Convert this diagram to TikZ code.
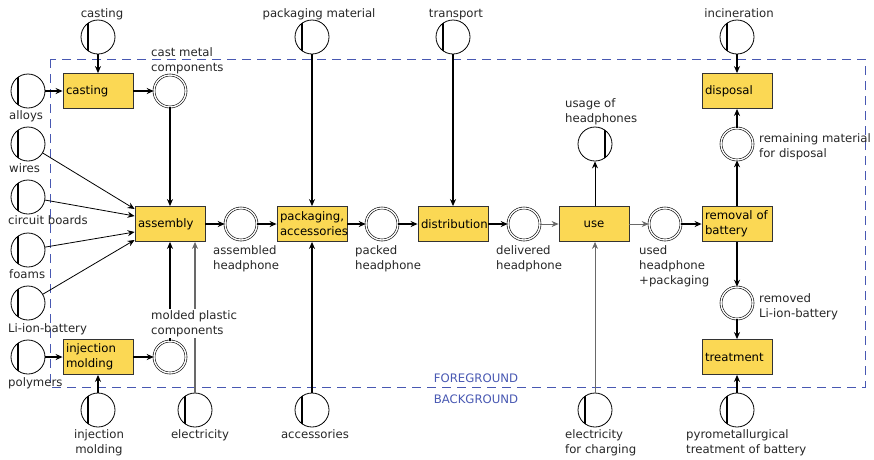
\documentclass[tikz,border=0pt]{standalone}
\usepackage{fontspec}
\setmainfont{DejaVu Sans}
\usetikzlibrary{arrows.meta}

\definecolor{procfill}{RGB}{251,216,84}
\definecolor{fgblue}{RGB}{72,88,178}
\definecolor{flowgray}{RGB}{105,105,105}

\tikzset{
  proc/.style={draw=black!80, fill=procfill, line width=0.8pt, minimum width=70pt,
               minimum height=35pt, text width=64pt, inner xsep=3pt, inner ysep=2pt, align=left},
  ext/.style={draw, circle, line width=0.8pt, minimum size=34pt, inner sep=0pt,
              path picture={\draw[line width=2.2pt] ([xshift=#1]path picture bounding box.north)
                                                 -- ([xshift=#1]path picture bounding box.south);}},
  ext/.default=-10pt,
  mid/.style={draw, circle, double, line width=0.6pt, double distance=1.4pt,
              minimum size=32pt, inner sep=0pt},
  lbl/.style={inner sep=0pt, text=black!85},
  main/.style={->, line width=1.8pt},
  side/.style={->, line width=0.8pt},
}

\begin{document}
\begin{tikzpicture}[x=1pt, y=-1pt, >={Stealth[length=7pt, width=6pt]},
                    font=\fontsize{11.7}{15}\selectfont]
\useasboundingbox (0,0) rectangle (874,459);

% 1. foreground frame
\draw[fgblue, line width=0.9pt, dash pattern=on 9pt off 6pt] (50,59) rectangle (865,387);
\node[text=fgblue] (fg) at (476,378) {FOREGROUND};
\node[text=fgblue] (bg) at (476,399) {BACKGROUND};

% 2. processes
\node[proc] (casting)   at (98,91)   {casting};
\node[proc] (inj)       at (98,357)  {injection\\molding};
\node[proc] (assembly)  at (170,224) {assembly};
\node[proc] (pack)      at (312,224) {packaging,\\accessories};
\node[proc] (distr)     at (453,224) {distribution};
\node[proc, align=center] (use) at (594,224) {use};
\node[proc] (removal)   at (737,224) {removal of\\battery};
\node[proc] (disposal)  at (737,91)  {disposal};
\node[proc] (treatment) at (737,357) {treatment};

% 3. intermediate flows
\foreach \n/\x/\y in {cast/170/91, molded/170/357, assembled/241/224, packed/382/224,
                      delivered/524/224, used/665/224, remaining/737/144, removed/737/303}
  \node[mid] (\n) at (\x,\y) {};

% 4. background flows
\foreach \n/\x/\y in {c-cast/98/37, c-pkg/312/37, c-trans/453/37, c-incin/737/37,
                      alloys/28/91, wires/28/144, circuit/28/197, foams/28/250,
                      liion/28/303, polymers/28/357, c-inj/98/410, c-elec/195/410,
                      c-acc/312/410, c-charge/595/410, c-pyro/737/410}
  \node[ext] (\n) at (\x,\y) {};
\node[ext=10pt] (usage) at (595,144) {};

% 5. connectors
% 5.1. metal and plastic parts
\draw[main] (c-cast) -- (casting);
\draw[main] (alloys) -- (casting);
\draw[main] (casting) -- (cast);
\draw[main] (cast) -- (assembly);
\draw[main] (polymers) -- (inj);
\draw[main] (c-inj) -- (inj);
\draw[main] (inj) -- (molded);
\draw[main] (molded) -- (assembly);
\draw[side, flowgray, line width=1.2pt] (c-elec) -- (c-elec |- assembly.south);
\foreach \s/\d in {wires/15, circuit/8, foams/-8, liion/-16}
  \draw[side] (\s) -- ([yshift=\d pt]assembly.west);

% 5.2. main chain
\draw[main] (assembly) -- (assembled);
\draw[main] (assembled) -- (pack);
\draw[main] (c-pkg) -- (pack);
\draw[main] (c-acc) -- (pack);
\draw[main] (pack) -- (packed);
\draw[main] (packed) -- (distr);
\draw[main] (c-trans) -- (distr);
\draw[main] (distr) -- (delivered);
\draw[side, flowgray] (delivered) -- (use);
\draw[side] (usage |- use.north) -- (usage);
\draw[side, flowgray] (c-charge) -- (c-charge |- use.south);
\draw[side, flowgray] (use) -- (used);
\draw[main] (used) -- (removal);

% 5.3. end of life
\draw[main] (removal) -- (remaining);
\draw[main] (remaining) -- (disposal);
\draw[main] (c-incin) -- (disposal);
\draw[main] (removal) -- (removed);
\draw[main] (removed) -- (treatment);
\draw[main] (c-pyro) -- (treatment);

% 6. labels
\node[lbl, anchor=base] (l-cast)  at (102,17) {casting};
\node[lbl, anchor=base] (l-pkg)   at (319,17) {packaging material};
\node[lbl, anchor=base] (l-trans) at (456,17) {transport};
\node[lbl, anchor=base] (l-incin) at (739,17) {incineration};

\node[lbl, anchor=north west] (l-alloys)   at (9,110)  {alloys};
\node[lbl, anchor=north west] (l-wires)    at (9,163)  {wires};
\node[lbl, anchor=north west] (l-circuit)  at (8,215)  {circuit boards};
\node[lbl, anchor=north west] (l-foams)    at (9,269)  {foams};
\node[lbl, anchor=north west] (l-liion)    at (8,323)  {Li-ion-battery};
\node[lbl, anchor=north west] (l-polymers) at (8,377)  {polymers};

\node[lbl, anchor=north, align=center] (l-inj) at (99,429) {injection\\molding};
\node[lbl, anchor=north] (l-elec) at (200,429) {electricity};
\node[lbl, anchor=north] (l-acc)  at (315,429) {accessories};
\node[lbl, anchor=north west, align=left] (l-charge) at (565,429) {electricity\\for charging};
\node[lbl, anchor=north west, align=left] (l-pyro)   at (686,429) {pyrometallurgical\\treatment of battery};

\node[lbl, anchor=north west, align=left] (l-castm)     at (151,47)  {cast metal\\components};
\node[lbl, anchor=north west, align=left, fill=white, inner ysep=1pt] (l-molded) at (151,309) {molded plastic\\components};
\node[lbl, anchor=north west, align=left] (l-assembled) at (213,245) {assembled\\headphone};
\node[lbl, anchor=north west, align=left] (l-packed)    at (355,245) {packed\\headphone};
\node[lbl, anchor=north west, align=left] (l-delivered) at (496,245) {delivered\\headphone};
\node[lbl, anchor=north west, align=left] (l-used)      at (639,245) {used\\headphone\\+packaging};
\node[lbl, anchor=north west, align=left] (l-usage)     at (565,98)  {usage of\\headphones};
\node[lbl, anchor=north west, align=left] (l-remaining) at (759,133) {remaining material\\for disposal};
\node[lbl, anchor=north west, align=left] (l-removed)   at (759,293) {removed\\Li-ion-battery};
\end{tikzpicture}
\end{document}
